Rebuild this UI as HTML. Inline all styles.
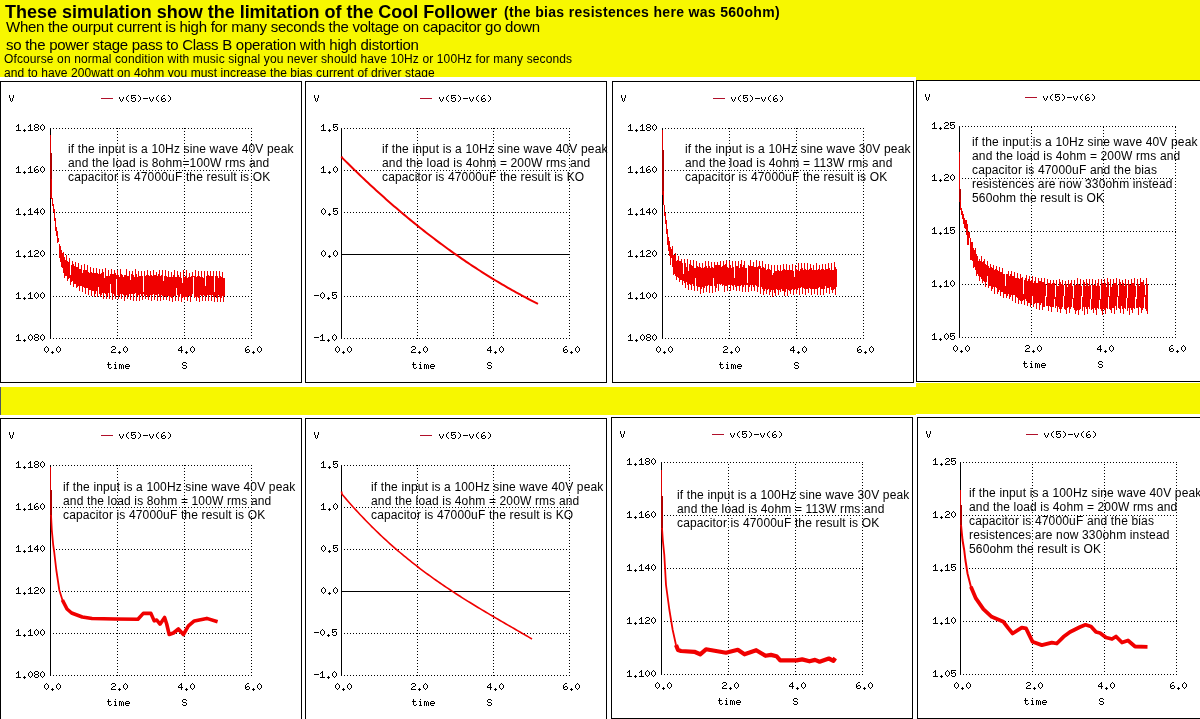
<!DOCTYPE html>
<html><head><meta charset="utf-8"><style>
html,body{margin:0;padding:0;width:1200px;height:719px;overflow:hidden;background:#f7f700;}
body{position:relative;font-family:"Liberation Sans",sans-serif;color:#000;}
.h{position:absolute;white-space:nowrap;line-height:1;will-change:transform;}
</style></head><body>
<div class="h" style="left:5px;top:3px;font-size:18px;font-weight:bold;letter-spacing:-0.015px">These simulation show the limitation of the Cool Follower</div>
<div class="h" style="left:504px;top:5px;font-size:14px;font-weight:bold;letter-spacing:0.32px">(the bias resistences here was 560ohm)</div>
<div class="h" style="left:6px;top:19px;font-size:15px;letter-spacing:-0.275px">When the ourput current is high for many seconds the voltage on capacitor go down</div>
<div class="h" style="left:6px;top:37px;font-size:15px;letter-spacing:-0.27px">so the power stage pass to Class B operation with high distortion</div>
<div class="h" style="left:4px;top:53px;font-size:12px;letter-spacing:0.12px">Ofcourse on normal condition with music signal you never should have 10Hz or 100Hz for many seconds</div>
<div class="h" style="left:4px;top:67px;font-size:12px;letter-spacing:0.083px">and to have 200watt on 4ohm you must increase the bias current of driver stage</div>
<svg width="1200" height="719" viewBox="0 0 1200 719" style="position:absolute;left:0;top:0;will-change:transform" shape-rendering="crispEdges">
<defs><path id="g0" d="M3 0h1v1h-1zM2 1h1v1h-1zM4 1h1v1h-1zM1 2h1v1h-1zM5 2h1v1h-1zM1 3h1v1h-1zM5 3h1v1h-1zM1 4h1v1h-1zM5 4h1v1h-1zM2 5h1v1h-1zM4 5h1v1h-1zM3 6h1v1h-1z"/><path id="g1" d="M3 0h1v1h-1zM2 1h2v1h-2zM1 2h1v1h-1zM3 2h1v1h-1zM3 3h1v1h-1zM3 4h1v1h-1zM3 5h1v1h-1zM1 6h5v1h-5z"/><path id="g2" d="M2 0h3v1h-3zM1 1h1v1h-1zM5 1h1v1h-1zM5 2h1v1h-1zM3 3h2v1h-2zM2 4h1v1h-1zM1 5h1v1h-1zM1 6h5v1h-5z"/><path id="g3" d="M4 0h1v1h-1zM3 1h2v1h-2zM2 2h1v1h-1zM4 2h1v1h-1zM1 3h1v1h-1zM4 3h1v1h-1zM1 4h5v1h-5zM4 5h1v1h-1zM4 6h1v1h-1z"/><path id="g4" d="M1 0h5v1h-5zM1 1h1v1h-1zM1 2h1v1h-1zM3 2h2v1h-2zM1 3h2v1h-2zM5 3h1v1h-1zM5 4h1v1h-1zM1 5h1v1h-1zM5 5h1v1h-1zM2 6h3v1h-3z"/><path id="g5" d="M3 0h2v1h-2zM2 1h1v1h-1zM1 2h1v1h-1zM1 3h1v1h-1zM3 3h2v1h-2zM1 4h2v1h-2zM5 4h1v1h-1zM1 5h1v1h-1zM5 5h1v1h-1zM2 6h3v1h-3z"/><path id="g6" d="M2 0h3v1h-3zM1 1h1v1h-1zM5 1h1v1h-1zM1 2h1v1h-1zM5 2h1v1h-1zM2 3h3v1h-3zM1 4h1v1h-1zM5 4h1v1h-1zM1 5h1v1h-1zM5 5h1v1h-1zM2 6h3v1h-3z"/><path id="g7" d="M3 5h1v1h-1zM2 6h3v1h-3zM3 7h1v1h-1z"/><path id="g8" d="M1 3h5v1h-5z"/><path id="g9" d="M1 0h1v1h-1zM5 0h1v1h-1zM1 1h1v1h-1zM5 1h1v1h-1zM1 2h1v1h-1zM5 2h1v1h-1zM2 3h1v1h-1zM4 3h1v1h-1zM2 4h1v1h-1zM4 4h1v1h-1zM2 5h1v1h-1zM4 5h1v1h-1zM3 6h1v1h-1z"/><path id="g10" d="M1 2h1v1h-1zM5 2h1v1h-1zM1 3h1v1h-1zM5 3h1v1h-1zM2 4h1v1h-1zM4 4h1v1h-1zM2 5h1v1h-1zM4 5h1v1h-1zM3 6h1v1h-1z"/><path id="g11" d="M4 0h1v1h-1zM3 1h1v1h-1zM2 2h1v1h-1zM2 3h1v1h-1zM2 4h1v1h-1zM3 5h1v1h-1zM4 6h1v1h-1z"/><path id="g12" d="M2 0h1v1h-1zM3 1h1v1h-1zM4 2h1v1h-1zM4 3h1v1h-1zM4 4h1v1h-1zM3 5h1v1h-1zM2 6h1v1h-1z"/><path id="g13" d="M2 0h1v1h-1zM2 1h1v1h-1zM1 2h4v1h-4zM2 3h1v1h-1zM2 4h1v1h-1zM2 5h1v1h-1zM5 5h1v1h-1zM3 6h2v1h-2z"/><path id="g14" d="M3 0h1v1h-1zM2 2h2v1h-2zM3 3h1v1h-1zM3 4h1v1h-1zM3 5h1v1h-1zM2 6h3v1h-3z"/><path id="g15" d="M1 2h2v1h-2zM4 2h1v1h-1zM1 3h1v1h-1zM3 3h1v1h-1zM5 3h1v1h-1zM1 4h1v1h-1zM3 4h1v1h-1zM5 4h1v1h-1zM1 5h1v1h-1zM3 5h1v1h-1zM5 5h1v1h-1zM1 6h1v1h-1zM3 6h1v1h-1zM5 6h1v1h-1z"/><path id="g16" d="M2 2h3v1h-3zM1 3h1v1h-1zM5 3h1v1h-1zM1 4h5v1h-5zM1 5h1v1h-1zM2 6h3v1h-3z"/><path id="g17" d="M2 0h3v1h-3zM1 1h1v1h-1zM5 1h1v1h-1zM1 2h1v1h-1zM2 3h3v1h-3zM5 4h1v1h-1zM1 5h1v1h-1zM5 5h1v1h-1zM2 6h3v1h-3z"/></defs>
<rect x="0" y="77" width="916" height="310" fill="#fff"/>
<rect x="0" y="415" width="1200" height="304" fill="#fff"/>
<rect x="916" y="382" width="284" height="1" fill="#fff"/><rect x="916" y="414" width="284" height="1" fill="#fff"/>
<rect x="0" y="387" width="1" height="28" fill="#505860"/>
<rect x="0.5" y="81.5" width="301" height="301" fill="#fff" stroke="#000" stroke-width="1"/>
<path d="M50 128.5 H252 M50 170.5 H252 M50 212.5 H252 M50 254.5 H252 M50 296.5 H252 M50 338.5 H252 M117.5 128 V339 M184.5 128 V339 M251.5 128 V339" stroke="#000" stroke-width="1" stroke-dasharray="1 2" fill="none"/>
<path d="M50.5 128 V339" stroke="#000" stroke-width="1"/>
<g fill="#000"><use href="#g1" x="15" y="124"/><use href="#g7" x="21" y="124"/><use href="#g1" x="27" y="124"/><use href="#g6" x="33" y="124"/><use href="#g0" x="39" y="124"/><use href="#g1" x="15" y="166"/><use href="#g7" x="21" y="166"/><use href="#g1" x="27" y="166"/><use href="#g5" x="33" y="166"/><use href="#g0" x="39" y="166"/><use href="#g1" x="15" y="208"/><use href="#g7" x="21" y="208"/><use href="#g1" x="27" y="208"/><use href="#g3" x="33" y="208"/><use href="#g0" x="39" y="208"/><use href="#g1" x="15" y="250"/><use href="#g7" x="21" y="250"/><use href="#g1" x="27" y="250"/><use href="#g2" x="33" y="250"/><use href="#g0" x="39" y="250"/><use href="#g1" x="15" y="292"/><use href="#g7" x="21" y="292"/><use href="#g1" x="27" y="292"/><use href="#g0" x="33" y="292"/><use href="#g0" x="39" y="292"/><use href="#g1" x="15" y="334"/><use href="#g7" x="21" y="334"/><use href="#g0" x="27" y="334"/><use href="#g6" x="33" y="334"/><use href="#g0" x="39" y="334"/><use href="#g0" x="43" y="346"/><use href="#g7" x="49" y="346"/><use href="#g0" x="55" y="346"/><use href="#g2" x="110" y="346"/><use href="#g7" x="116" y="346"/><use href="#g0" x="122" y="346"/><use href="#g3" x="177" y="346"/><use href="#g7" x="183" y="346"/><use href="#g0" x="189" y="346"/><use href="#g5" x="244" y="346"/><use href="#g7" x="250" y="346"/><use href="#g0" x="256" y="346"/><use href="#g13" x="106" y="362"/><use href="#g14" x="112" y="362"/><use href="#g15" x="118" y="362"/><use href="#g16" x="124" y="362"/><use href="#g17" x="181" y="362"/><use href="#g9" x="8" y="95"/><use href="#g10" x="118" y="95"/><use href="#g11" x="124" y="95"/><use href="#g4" x="130" y="95"/><use href="#g12" x="136" y="95"/><use href="#g8" x="142" y="95"/><use href="#g10" x="148" y="95"/><use href="#g11" x="154" y="95"/><use href="#g5" x="160" y="95"/><use href="#g12" x="166" y="95"/></g>
<rect x="101" y="98" width="12" height="1" fill="#b0102a"/>
<rect x="50" y="135" width="1" height="18" fill="#e00000"/><rect x="50" y="153" width="2" height="45" fill="#b00000"/><path d="M51.5 179.0 V199.0 M52.5 198.0 V206.0 M53.5 204.0 V212.0 M54.5 209.0 V221.0 M55.5 218.0 V231.0 M56.5 227.0 V236.0 M57.5 231.0 V243.0 M58.5 238.0 V242.0 M59.5 244.0 V258.0 M60.5 246.0 V262.0 M61.5 250.0 V267.0 M62.5 253.0 V268.0 M63.5 252.0 V273.0 M64.5 257.0 V278.0 M65.5 260.0 V276.0 M66.5 255.0 V276.0 M67.5 261.0 V281.0 M68.5 262.0 V279.0 M69.5 258.0 V278.0 M70.5 275.0 V285.0 M71.5 265.0 V282.0 M72.5 261.0 V281.0 M73.5 264.0 V287.0 M74.5 266.0 V284.0 M75.5 262.0 V284.0 M76.5 267.0 V288.0 M77.5 267.0 V287.0 M78.5 263.0 V286.0 M79.5 269.0 V291.0 M80.5 269.0 V286.0 M81.5 265.0 V286.0 M82.5 273.0 V292.0 M83.5 270.0 V287.0 M84.5 264.0 V288.0 M85.5 270.0 V294.0 M86.5 270.0 V288.0 M87.5 265.0 V288.0 M88.5 272.0 V295.0 M89.5 273.0 V290.0 M90.5 267.0 V290.0 M91.5 272.0 V296.0 M92.5 273.0 V291.0 M93.5 268.0 V291.0 M94.5 273.0 V297.0 M95.5 273.0 V294.0 M96.5 268.0 V291.0 M97.5 273.0 V297.0 M98.5 274.0 V287.0 M99.5 269.0 V294.0 M100.5 274.0 V297.0 M101.5 273.0 V295.0 M102.5 269.0 V293.0 M103.5 272.0 V299.0 M104.5 278.0 V293.0 M105.5 268.0 V294.0 M106.5 276.0 V299.0 M107.5 276.0 V296.0 M108.5 270.0 V293.0 M109.5 276.0 V299.0 M110.5 274.0 V284.0 M111.5 269.0 V293.0 M112.5 274.0 V300.0 M113.5 274.0 V294.0 M114.5 270.0 V296.0 M115.5 273.0 V299.0 M116.5 275.0 V279.0 M117.5 270.0 V295.0 M118.5 275.0 V299.0 M119.5 277.0 V296.0 M120.5 269.0 V294.0 M121.5 274.0 V299.0 M122.5 275.0 V294.0 M123.5 277.0 V295.0 M124.5 275.0 V301.0 M125.5 275.0 V296.0 M126.5 269.0 V295.0 M127.5 276.0 V299.0 M128.5 276.0 V296.0 M129.5 271.0 V294.0 M130.5 280.0 V300.0 M131.5 274.0 V294.0 M132.5 271.0 V294.0 M133.5 275.0 V301.0 M134.5 277.0 V294.0 M135.5 269.0 V293.0 M136.5 274.0 V301.0 M137.5 277.0 V296.0 M138.5 271.0 V295.0 M139.5 276.0 V301.0 M140.5 276.0 V294.0 M141.5 271.0 V296.0 M142.5 276.0 V300.0 M143.5 292.0 V294.0 M144.5 271.0 V296.0 M145.5 276.0 V299.0 M146.5 275.0 V295.0 M147.5 270.0 V297.0 M148.5 275.0 V300.0 M149.5 276.0 V296.0 M150.5 271.0 V295.0 M151.5 275.0 V301.0 M152.5 276.0 V295.0 M153.5 270.0 V294.0 M154.5 275.0 V300.0 M155.5 275.0 V295.0 M156.5 272.0 V295.0 M157.5 276.0 V301.0 M158.5 274.0 V294.0 M159.5 270.0 V297.0 M160.5 276.0 V301.0 M161.5 275.0 V295.0 M162.5 270.0 V296.0 M163.5 281.0 V300.0 M164.5 276.0 V296.0 M165.5 270.0 V297.0 M166.5 276.0 V300.0 M167.5 277.0 V296.0 M168.5 271.0 V296.0 M169.5 277.0 V301.0 M170.5 277.0 V297.0 M171.5 272.0 V298.0 M172.5 277.0 V302.0 M173.5 275.0 V296.0 M174.5 270.0 V296.0 M175.5 277.0 V301.0 M176.5 277.0 V288.0 M177.5 271.0 V295.0 M178.5 275.0 V301.0 M179.5 277.0 V297.0 M180.5 272.0 V294.0 M181.5 278.0 V302.0 M182.5 283.0 V298.0 M183.5 270.0 V297.0 M184.5 277.0 V300.0 M185.5 276.0 V297.0 M186.5 270.0 V297.0 M187.5 278.0 V301.0 M188.5 277.0 V296.0 M189.5 273.0 V296.0 M190.5 277.0 V302.0 M191.5 276.0 V296.0 M192.5 272.0 V294.0 M193.5 276.0 V277.0 M194.5 276.0 V298.0 M195.5 270.0 V297.0 M196.5 277.0 V301.0 M197.5 276.0 V297.0 M198.5 271.0 V298.0 M199.5 276.0 V302.0 M200.5 277.0 V295.0 M201.5 271.0 V296.0 M202.5 277.0 V301.0 M203.5 278.0 V295.0 M204.5 271.0 V296.0 M205.5 286.0 V301.0 M206.5 276.0 V296.0 M207.5 271.0 V295.0 M208.5 275.0 V301.0 M209.5 276.0 V295.0 M210.5 271.0 V295.0 M211.5 276.0 V301.0 M212.5 276.0 V295.0 M213.5 271.0 V297.0 M214.5 292.0 V302.0 M215.5 276.0 V296.0 M216.5 271.0 V298.0 M217.5 276.0 V302.0 M218.5 278.0 V295.0 M219.5 271.0 V297.0 M220.5 276.0 V302.0 M221.5 277.0 V298.0 M222.5 272.0 V296.0 M223.5 278.0 V302.0 M224.5 278.0 V296.0" fill="none" stroke="#f00000" stroke-width="1"/>
<g shape-rendering="geometricPrecision" font-family="Liberation Sans" font-size="12px" letter-spacing="0.15" fill="#000"><text x="68" y="153">if the input is a 10Hz sine wave 40V peak</text><text x="68" y="167">and the load is 8ohm=100W rms and</text><text x="68" y="181">capacitor is 47000uF the result is OK</text></g>
<rect x="305.5" y="81.5" width="301" height="301" fill="#fff" stroke="#000" stroke-width="1"/>
<path d="M341 128.5 H570 M341 170.5 H570 M341 212.5 H570 M341 254.5 H570 M341 296.5 H570 M341 338.5 H570 M417.5 128 V339 M493.5 128 V339 M569.5 128 V339" stroke="#000" stroke-width="1" stroke-dasharray="1 2" fill="none"/>
<path d="M341.5 128 V339" stroke="#000" stroke-width="1"/>
<path d="M341 254.5 H570" stroke="#000" stroke-width="1"/>
<g fill="#000"><use href="#g1" x="320" y="124"/><use href="#g7" x="326" y="124"/><use href="#g4" x="332" y="124"/><use href="#g1" x="320" y="166"/><use href="#g7" x="326" y="166"/><use href="#g0" x="332" y="166"/><use href="#g0" x="320" y="208"/><use href="#g7" x="326" y="208"/><use href="#g4" x="332" y="208"/><use href="#g0" x="320" y="250"/><use href="#g7" x="326" y="250"/><use href="#g0" x="332" y="250"/><use href="#g8" x="313" y="292"/><use href="#g0" x="319" y="292"/><use href="#g7" x="325" y="292"/><use href="#g4" x="331" y="292"/><use href="#g8" x="313" y="334"/><use href="#g1" x="319" y="334"/><use href="#g7" x="325" y="334"/><use href="#g0" x="331" y="334"/><use href="#g0" x="334" y="346"/><use href="#g7" x="340" y="346"/><use href="#g0" x="346" y="346"/><use href="#g2" x="410" y="346"/><use href="#g7" x="416" y="346"/><use href="#g0" x="422" y="346"/><use href="#g3" x="486" y="346"/><use href="#g7" x="492" y="346"/><use href="#g0" x="498" y="346"/><use href="#g5" x="562" y="346"/><use href="#g7" x="568" y="346"/><use href="#g0" x="574" y="346"/><use href="#g13" x="411" y="362"/><use href="#g14" x="417" y="362"/><use href="#g15" x="423" y="362"/><use href="#g16" x="429" y="362"/><use href="#g17" x="486" y="362"/><use href="#g9" x="313" y="95"/><use href="#g10" x="438" y="95"/><use href="#g11" x="444" y="95"/><use href="#g4" x="450" y="95"/><use href="#g12" x="456" y="95"/><use href="#g8" x="462" y="95"/><use href="#g10" x="468" y="95"/><use href="#g11" x="474" y="95"/><use href="#g5" x="480" y="95"/><use href="#g12" x="486" y="95"/></g>
<rect x="420" y="98" width="12" height="1" fill="#b0102a"/>
<path d="M341.5 156.5 L342 157.614 L344 159.616 L346 161.606 L348 163.585 L350 165.554 L352 167.512 L354 169.458 L356 171.394 L358 173.319 L360 175.234 L362 177.137 L364 179.03 L366 180.912 L368 182.783 L370 184.643 L372 186.493 L374 188.332 L376 190.16 L378 191.977 L380 193.784 L382 195.58 L384 197.366 L386 199.14 L388 200.905 L390 202.658 L392 204.401 L394 206.133 L396 207.855 L398 209.566 L400 211.267 L402 212.957 L404 214.636 L406 216.305 L408 217.964 L410 219.612 L412 221.249 L414 222.877 L416 224.493 L418 226.099 L420 227.695 L422 229.28 L424 230.855 L426 232.42 L428 233.974 L430 235.518 L432 237.051 L434 238.574 L436 240.087 L438 241.59 L440 243.082 L442 244.564 L444 246.035 L446 247.497 L448 248.948 L450 250.389 L452 251.82 L454 253.24 L456 254.65 L458 256.051 L460 257.441 L462 258.82 L464 260.19 L466 261.55 L468 262.899 L470 264.238 L472 265.568 L474 266.887 L476 268.196 L478 269.495 L480 270.784 L482 272.063 L484 273.332 L486 274.591 L488 275.84 L490 277.079 L492 278.309 L494 279.528 L496 280.737 L498 281.936 L500 283.126 L502 284.306 L504 285.475 L506 286.635 L508 287.785 L510 288.925 L512 290.056 L514 291.176 L516 292.287 L518 293.388 L520 294.479 L522 295.561 L524 296.632 L526 297.694 L528 298.746 L530 299.789 L532 300.822 L534 301.845 L536 302.859 L538 303.862" fill="none" stroke="#f00000" stroke-width="2" stroke-linejoin="round" shape-rendering="geometricPrecision"/>
<g shape-rendering="geometricPrecision" font-family="Liberation Sans" font-size="12px" letter-spacing="0.15" fill="#000"><text x="382" y="153">if the input is a 10Hz sine wave 40V peak</text><text x="382" y="167">and the load is 4ohm = 200W rms and</text><text x="382" y="181">capacitor is 47000uF the result is KO</text></g>
<rect x="612.5" y="81.5" width="301" height="301" fill="#fff" stroke="#000" stroke-width="1"/>
<path d="M662 128.5 H864 M662 170.5 H864 M662 212.5 H864 M662 254.5 H864 M662 296.5 H864 M662 338.5 H864 M729.5 128 V339 M796.5 128 V339 M863.5 128 V339" stroke="#000" stroke-width="1" stroke-dasharray="1 2" fill="none"/>
<path d="M662.5 128 V339" stroke="#000" stroke-width="1"/>
<g fill="#000"><use href="#g1" x="627" y="124"/><use href="#g7" x="633" y="124"/><use href="#g1" x="639" y="124"/><use href="#g6" x="645" y="124"/><use href="#g0" x="651" y="124"/><use href="#g1" x="627" y="166"/><use href="#g7" x="633" y="166"/><use href="#g1" x="639" y="166"/><use href="#g5" x="645" y="166"/><use href="#g0" x="651" y="166"/><use href="#g1" x="627" y="208"/><use href="#g7" x="633" y="208"/><use href="#g1" x="639" y="208"/><use href="#g3" x="645" y="208"/><use href="#g0" x="651" y="208"/><use href="#g1" x="627" y="250"/><use href="#g7" x="633" y="250"/><use href="#g1" x="639" y="250"/><use href="#g2" x="645" y="250"/><use href="#g0" x="651" y="250"/><use href="#g1" x="627" y="292"/><use href="#g7" x="633" y="292"/><use href="#g1" x="639" y="292"/><use href="#g0" x="645" y="292"/><use href="#g0" x="651" y="292"/><use href="#g1" x="627" y="334"/><use href="#g7" x="633" y="334"/><use href="#g0" x="639" y="334"/><use href="#g6" x="645" y="334"/><use href="#g0" x="651" y="334"/><use href="#g0" x="655" y="346"/><use href="#g7" x="661" y="346"/><use href="#g0" x="667" y="346"/><use href="#g2" x="722" y="346"/><use href="#g7" x="728" y="346"/><use href="#g0" x="734" y="346"/><use href="#g3" x="789" y="346"/><use href="#g7" x="795" y="346"/><use href="#g0" x="801" y="346"/><use href="#g5" x="856" y="346"/><use href="#g7" x="862" y="346"/><use href="#g0" x="868" y="346"/><use href="#g13" x="718" y="362"/><use href="#g14" x="724" y="362"/><use href="#g15" x="730" y="362"/><use href="#g16" x="736" y="362"/><use href="#g17" x="793" y="362"/><use href="#g9" x="620" y="95"/><use href="#g10" x="730" y="95"/><use href="#g11" x="736" y="95"/><use href="#g4" x="742" y="95"/><use href="#g12" x="748" y="95"/><use href="#g8" x="754" y="95"/><use href="#g10" x="760" y="95"/><use href="#g11" x="766" y="95"/><use href="#g5" x="772" y="95"/><use href="#g12" x="778" y="95"/></g>
<rect x="713" y="98" width="12" height="1" fill="#b0102a"/>
<rect x="662" y="130" width="1" height="20" fill="#e00000"/><rect x="662" y="150" width="2" height="45" fill="#b00000"/><path d="M663.5 191.0 V205.0 M664.5 205.0 V216.0 M665.5 213.0 V224.0 M666.5 220.0 V234.0 M667.5 229.0 V245.0 M668.5 237.0 V251.0 M669.5 241.0 V256.0 M670.5 247.0 V265.0 M671.5 249.0 V258.0 M672.5 246.0 V267.0 M673.5 255.0 V275.0 M674.5 255.0 V274.0 M675.5 253.0 V276.0 M676.5 261.0 V280.0 M677.5 260.0 V277.0 M678.5 256.0 V278.0 M679.5 261.0 V282.0 M680.5 261.0 V280.0 M681.5 259.0 V280.0 M682.5 263.0 V285.0 M683.5 274.0 V281.0 M684.5 259.0 V283.0 M685.5 263.0 V288.0 M686.5 267.0 V282.0 M687.5 259.0 V285.0 M688.5 271.0 V290.0 M689.5 264.0 V284.0 M690.5 260.0 V285.0 M691.5 265.0 V290.0 M692.5 266.0 V284.0 M693.5 260.0 V286.0 M694.5 268.0 V291.0 M695.5 268.0 V278.0 M696.5 261.0 V286.0 M697.5 266.0 V291.0 M698.5 267.0 V287.0 M699.5 263.0 V287.0 M700.5 267.0 V294.0 M701.5 268.0 V289.0 M702.5 263.0 V287.0 M703.5 268.0 V293.0 M704.5 267.0 V288.0 M705.5 261.0 V286.0 M706.5 266.0 V292.0 M707.5 268.0 V286.0 M708.5 261.0 V285.0 M709.5 266.0 V293.0 M710.5 268.0 V286.0 M711.5 262.0 V286.0 M712.5 267.0 V293.0 M713.5 268.0 V278.0 M714.5 262.0 V286.0 M715.5 265.0 V292.0 M716.5 265.0 V288.0 M717.5 262.0 V284.0 M718.5 265.0 V291.0 M719.5 265.0 V284.0 M720.5 261.0 V285.0 M721.5 267.0 V284.0 M722.5 266.0 V286.0 M723.5 261.0 V285.0 M724.5 265.0 V292.0 M725.5 264.0 V286.0 M726.5 260.0 V286.0 M727.5 267.0 V291.0 M728.5 268.0 V285.0 M729.5 261.0 V285.0 M730.5 265.0 V291.0 M731.5 268.0 V285.0 M732.5 261.0 V286.0 M733.5 267.0 V290.0 M734.5 278.0 V285.0 M735.5 261.0 V287.0 M736.5 266.0 V291.0 M737.5 266.0 V286.0 M738.5 261.0 V286.0 M739.5 268.0 V291.0 M740.5 264.0 V286.0 M741.5 260.0 V285.0 M742.5 267.0 V292.0 M743.5 265.0 V287.0 M744.5 261.0 V285.0 M745.5 268.0 V292.0 M746.5 268.0 V285.0 M747.5 283.0 V285.0 M748.5 265.0 V292.0 M749.5 266.0 V287.0 M750.5 260.0 V285.0 M751.5 266.0 V291.0 M752.5 266.0 V285.0 M753.5 262.0 V287.0 M754.5 267.0 V291.0 M755.5 267.0 V285.0 M756.5 260.0 V286.0 M757.5 267.0 V292.0 M758.5 266.0 V287.0 M759.5 261.0 V269.0 M760.5 266.0 V294.0 M761.5 268.0 V287.0 M762.5 261.0 V289.0 M763.5 267.0 V295.0 M764.5 268.0 V291.0 M765.5 264.0 V289.0 M766.5 270.0 V294.0 M767.5 269.0 V290.0 M768.5 264.0 V289.0 M769.5 269.0 V295.0 M770.5 270.0 V292.0 M771.5 265.0 V290.0 M772.5 275.0 V297.0 M773.5 273.0 V290.0 M774.5 265.0 V293.0 M775.5 271.0 V296.0 M776.5 271.0 V289.0 M777.5 265.0 V290.0 M778.5 270.0 V295.0 M779.5 271.0 V290.0 M780.5 265.0 V292.0 M781.5 271.0 V289.0 M782.5 270.0 V291.0 M783.5 264.0 V291.0 M784.5 269.0 V296.0 M785.5 270.0 V292.0 M786.5 264.0 V289.0 M787.5 270.0 V296.0 M788.5 270.0 V290.0 M789.5 265.0 V291.0 M790.5 270.0 V294.0 M791.5 270.0 V290.0 M792.5 264.0 V289.0 M793.5 271.0 V295.0 M794.5 277.0 V290.0 M795.5 265.0 V289.0 M796.5 269.0 V294.0 M797.5 270.0 V290.0 M798.5 263.0 V288.0 M799.5 271.0 V295.0 M800.5 269.0 V288.0 M801.5 263.0 V287.0 M802.5 268.0 V294.0 M803.5 270.0 V288.0 M804.5 263.0 V289.0 M805.5 269.0 V295.0 M806.5 270.0 V289.0 M807.5 263.0 V289.0 M808.5 270.0 V293.0 M809.5 269.0 V288.0 M810.5 264.0 V289.0 M811.5 268.0 V295.0 M812.5 270.0 V289.0 M813.5 265.0 V289.0 M814.5 270.0 V294.0 M815.5 270.0 V289.0 M816.5 263.0 V289.0 M817.5 270.0 V295.0 M818.5 269.0 V288.0 M819.5 265.0 V287.0 M820.5 270.0 V295.0 M821.5 269.0 V289.0 M822.5 264.0 V289.0 M823.5 269.0 V295.0 M824.5 270.0 V289.0 M825.5 264.0 V286.0 M826.5 269.0 V293.0 M827.5 269.0 V288.0 M828.5 263.0 V288.0 M829.5 268.0 V294.0 M830.5 270.0 V287.0 M831.5 263.0 V290.0 M832.5 270.0 V293.0 M833.5 270.0 V290.0 M834.5 262.0 V289.0 M835.5 267.0 V295.0 M836.5 269.0 V287.0" fill="none" stroke="#f00000" stroke-width="1"/>
<g shape-rendering="geometricPrecision" font-family="Liberation Sans" font-size="12px" letter-spacing="0.15" fill="#000"><text x="685" y="153">if the input is a 10Hz sine wave 30V peak</text><text x="685" y="167">and the load is 4ohm = 113W rms and</text><text x="685" y="181">capacitor is 47000uF the result is OK</text></g>
<rect x="916.5" y="80.5" width="301" height="301" fill="#fff" stroke="#000" stroke-width="1"/>
<path d="M959 126.5 H1176 M959 178.5 H1176 M959 231.5 H1176 M959 284.5 H1176 M959 337.5 H1176 M1031.5 127 V338 M1103.5 127 V338 M1175.5 127 V338" stroke="#000" stroke-width="1" stroke-dasharray="1 2" fill="none"/>
<path d="M959.5 126 V338" stroke="#000" stroke-width="1"/>
<g fill="#000"><use href="#g1" x="931" y="122"/><use href="#g7" x="937" y="122"/><use href="#g2" x="943" y="122"/><use href="#g4" x="949" y="122"/><use href="#g1" x="931" y="174"/><use href="#g7" x="937" y="174"/><use href="#g2" x="943" y="174"/><use href="#g0" x="949" y="174"/><use href="#g1" x="931" y="227"/><use href="#g7" x="937" y="227"/><use href="#g1" x="943" y="227"/><use href="#g4" x="949" y="227"/><use href="#g1" x="931" y="280"/><use href="#g7" x="937" y="280"/><use href="#g1" x="943" y="280"/><use href="#g0" x="949" y="280"/><use href="#g1" x="931" y="333"/><use href="#g7" x="937" y="333"/><use href="#g0" x="943" y="333"/><use href="#g4" x="949" y="333"/><use href="#g0" x="952" y="345"/><use href="#g7" x="958" y="345"/><use href="#g0" x="964" y="345"/><use href="#g2" x="1024" y="345"/><use href="#g7" x="1030" y="345"/><use href="#g0" x="1036" y="345"/><use href="#g3" x="1096" y="345"/><use href="#g7" x="1102" y="345"/><use href="#g0" x="1108" y="345"/><use href="#g5" x="1168" y="345"/><use href="#g7" x="1174" y="345"/><use href="#g0" x="1180" y="345"/><use href="#g13" x="1022" y="361"/><use href="#g14" x="1028" y="361"/><use href="#g15" x="1034" y="361"/><use href="#g16" x="1040" y="361"/><use href="#g17" x="1097" y="361"/><use href="#g9" x="924" y="94"/><use href="#g10" x="1042" y="94"/><use href="#g11" x="1048" y="94"/><use href="#g4" x="1054" y="94"/><use href="#g12" x="1060" y="94"/><use href="#g8" x="1066" y="94"/><use href="#g10" x="1072" y="94"/><use href="#g11" x="1078" y="94"/><use href="#g5" x="1084" y="94"/><use href="#g12" x="1090" y="94"/></g>
<rect x="1025" y="97" width="12" height="1" fill="#b0102a"/>
<rect x="959" y="152" width="1" height="37" fill="#e00000"/><rect x="959" y="189" width="2" height="13" fill="#b00000"/><path d="M960.5 200.0 V210.0 M961.5 208.0 V215.0 M962.5 211.0 V219.0 M963.5 214.0 V224.0 M964.5 218.0 V228.0 M965.5 220.0 V229.0 M966.5 220.0 V235.0 M967.5 224.0 V245.0 M968.5 232.0 V245.0 M969.5 232.0 V238.0 M970.5 238.0 V260.0 M971.5 242.0 V260.0 M972.5 242.0 V261.0 M973.5 248.0 V268.0 M974.5 250.0 V267.0 M975.5 248.0 V270.0 M976.5 254.0 V276.0 M977.5 256.0 V274.0 M978.5 261.0 V276.0 M979.5 259.0 V281.0 M980.5 261.0 V277.0 M981.5 256.0 V279.0 M982.5 262.0 V283.0 M983.5 261.0 V281.0 M984.5 259.0 V282.0 M985.5 264.0 V287.0 M986.5 265.0 V282.0 M987.5 261.0 V276.0 M988.5 266.0 V288.0 M989.5 268.0 V286.0 M990.5 264.0 V286.0 M991.5 267.0 V291.0 M992.5 268.0 V289.0 M993.5 265.0 V287.0 M994.5 270.0 V294.0 M995.5 269.0 V287.0 M996.5 266.0 V288.0 M997.5 270.0 V294.0 M998.5 271.0 V292.0 M999.5 267.0 V290.0 M1000.5 272.0 V296.0 M1001.5 272.0 V292.0 M1002.5 268.0 V292.0 M1003.5 274.0 V298.0 M1004.5 274.0 V294.0 M1005.5 286.0 V294.0 M1006.5 274.0 V298.0 M1007.5 274.0 V296.0 M1008.5 271.0 V294.0 M1009.5 276.0 V299.0 M1010.5 274.0 V297.0 M1011.5 271.0 V295.0 M1012.5 276.0 V301.0 M1013.5 276.0 V295.0 M1014.5 272.0 V295.0 M1015.5 278.0 V303.0 M1016.5 278.0 V297.0 M1017.5 273.0 V298.0 M1018.5 278.0 V304.0 M1019.5 279.0 V300.0 M1020.5 274.0 V301.0 M1021.5 278.0 V304.0 M1022.5 277.0 V301.0 M1023.5 294.0 V300.0 M1024.5 280.0 V305.0 M1025.5 278.0 V299.0 M1026.5 275.0 V301.0 M1027.5 281.0 V306.0 M1028.5 279.0 V303.0 M1029.5 276.0 V303.0 M1030.5 281.0 V307.0 M1031.5 280.0 V304.0 M1032.5 276.0 V296.0 M1033.5 283.0 V307.0 M1034.5 281.0 V304.0 M1035.5 277.0 V303.0 M1036.5 283.0 V309.0 M1037.5 283.0 V303.0 M1038.5 278.0 V303.0 M1039.5 281.0 V310.0 M1040.5 281.0 V305.0 M1041.5 278.0 V303.0 M1042.5 282.0 V310.0 M1043.5 282.0 V307.0 M1044.5 278.0 V307.0 M1045.5 284.0 V296.0 M1046.5 297.0 V306.0 M1047.5 279.0 V306.0 M1048.5 283.0 V311.0 M1049.5 283.0 V306.0 M1050.5 280.0 V307.0 M1051.5 284.0 V312.0 M1052.5 283.0 V307.0 M1053.5 280.0 V307.0 M1054.5 283.0 V299.0 M1055.5 297.0 V308.0 M1056.5 280.0 V306.0 M1057.5 286.0 V312.0 M1058.5 286.0 V307.0 M1059.5 279.0 V309.0 M1060.5 282.0 V313.0 M1061.5 284.0 V309.0 M1062.5 280.0 V307.0 M1063.5 285.0 V296.0 M1064.5 296.0 V309.0 M1065.5 281.0 V310.0 M1066.5 284.0 V314.0 M1067.5 287.0 V308.0 M1068.5 280.0 V307.0 M1069.5 284.0 V313.0 M1070.5 283.0 V309.0 M1071.5 280.0 V307.0 M1072.5 286.0 V299.0 M1073.5 298.0 V308.0 M1074.5 280.0 V310.0 M1075.5 285.0 V314.0 M1076.5 285.0 V311.0 M1077.5 278.0 V310.0 M1078.5 284.0 V315.0 M1079.5 285.0 V310.0 M1080.5 279.0 V309.0 M1081.5 286.0 V296.0 M1082.5 297.0 V311.0 M1083.5 280.0 V307.0 M1084.5 282.0 V315.0 M1085.5 286.0 V307.0 M1086.5 279.0 V309.0 M1087.5 283.0 V314.0 M1088.5 286.0 V307.0 M1089.5 279.0 V309.0 M1090.5 285.0 V299.0 M1091.5 299.0 V310.0 M1092.5 279.0 V309.0 M1093.5 285.0 V313.0 M1094.5 285.0 V308.0 M1095.5 280.0 V310.0 M1096.5 286.0 V315.0 M1097.5 283.0 V308.0 M1098.5 279.0 V309.0 M1099.5 286.0 V300.0 M1100.5 299.0 V309.0 M1101.5 279.0 V311.0 M1102.5 283.0 V315.0 M1103.5 284.0 V309.0 M1104.5 279.0 V310.0 M1105.5 283.0 V314.0 M1106.5 287.0 V308.0 M1107.5 278.0 V309.0 M1108.5 282.0 V297.0 M1109.5 296.0 V309.0 M1110.5 279.0 V310.0 M1111.5 287.0 V313.0 M1112.5 285.0 V308.0 M1113.5 279.0 V308.0 M1114.5 283.0 V314.0 M1115.5 283.0 V306.0 M1116.5 278.0 V310.0 M1117.5 285.0 V297.0 M1118.5 296.0 V308.0 M1119.5 279.0 V309.0 M1120.5 282.0 V313.0 M1121.5 285.0 V306.0 M1122.5 280.0 V309.0 M1123.5 283.0 V314.0 M1124.5 286.0 V308.0 M1125.5 279.0 V309.0 M1126.5 284.0 V298.0 M1127.5 298.0 V311.0 M1128.5 280.0 V308.0 M1129.5 284.0 V315.0 M1130.5 285.0 V308.0 M1131.5 279.0 V310.0 M1132.5 283.0 V313.0 M1133.5 283.0 V308.0 M1134.5 278.0 V309.0 M1135.5 286.0 V297.0 M1136.5 299.0 V308.0 M1137.5 279.0 V308.0 M1138.5 284.0 V315.0 M1139.5 286.0 V307.0 M1140.5 278.0 V308.0 M1141.5 282.0 V313.0 M1142.5 282.0 V310.0 M1143.5 280.0 V308.0 M1144.5 285.0 V297.0 M1145.5 295.0 V309.0 M1146.5 278.0 V311.0 M1147.5 284.0 V314.0" fill="none" stroke="#f00000" stroke-width="1"/>
<g shape-rendering="geometricPrecision" font-family="Liberation Sans" font-size="12px" letter-spacing="0.15" fill="#000"><text x="972" y="146">if the input is a 10Hz sine wave 40V peak</text><text x="972" y="160">and the load is 4ohm = 200W rms and</text><text x="972" y="174">capacitor is 47000uF and the bias</text><text x="972" y="188">resistences are now 330ohm instead</text><text x="972" y="202">560ohm the result is OK</text></g>
<rect x="0.5" y="418.5" width="301" height="301" fill="#fff" stroke="#000" stroke-width="1"/>
<path d="M50 465.5 H252 M50 507.5 H252 M50 549.5 H252 M50 591.5 H252 M50 633.5 H252 M50 675.5 H252 M117.5 465 V676 M184.5 465 V676 M251.5 465 V676" stroke="#000" stroke-width="1" stroke-dasharray="1 2" fill="none"/>
<path d="M50.5 465 V676" stroke="#000" stroke-width="1"/>
<g fill="#000"><use href="#g1" x="15" y="461"/><use href="#g7" x="21" y="461"/><use href="#g1" x="27" y="461"/><use href="#g6" x="33" y="461"/><use href="#g0" x="39" y="461"/><use href="#g1" x="15" y="503"/><use href="#g7" x="21" y="503"/><use href="#g1" x="27" y="503"/><use href="#g5" x="33" y="503"/><use href="#g0" x="39" y="503"/><use href="#g1" x="15" y="545"/><use href="#g7" x="21" y="545"/><use href="#g1" x="27" y="545"/><use href="#g3" x="33" y="545"/><use href="#g0" x="39" y="545"/><use href="#g1" x="15" y="587"/><use href="#g7" x="21" y="587"/><use href="#g1" x="27" y="587"/><use href="#g2" x="33" y="587"/><use href="#g0" x="39" y="587"/><use href="#g1" x="15" y="629"/><use href="#g7" x="21" y="629"/><use href="#g1" x="27" y="629"/><use href="#g0" x="33" y="629"/><use href="#g0" x="39" y="629"/><use href="#g1" x="15" y="671"/><use href="#g7" x="21" y="671"/><use href="#g0" x="27" y="671"/><use href="#g6" x="33" y="671"/><use href="#g0" x="39" y="671"/><use href="#g0" x="43" y="683"/><use href="#g7" x="49" y="683"/><use href="#g0" x="55" y="683"/><use href="#g2" x="110" y="683"/><use href="#g7" x="116" y="683"/><use href="#g0" x="122" y="683"/><use href="#g3" x="177" y="683"/><use href="#g7" x="183" y="683"/><use href="#g0" x="189" y="683"/><use href="#g5" x="244" y="683"/><use href="#g7" x="250" y="683"/><use href="#g0" x="256" y="683"/><use href="#g13" x="106" y="699"/><use href="#g14" x="112" y="699"/><use href="#g15" x="118" y="699"/><use href="#g16" x="124" y="699"/><use href="#g17" x="181" y="699"/><use href="#g9" x="8" y="432"/><use href="#g10" x="118" y="432"/><use href="#g11" x="124" y="432"/><use href="#g4" x="130" y="432"/><use href="#g12" x="136" y="432"/><use href="#g8" x="142" y="432"/><use href="#g10" x="148" y="432"/><use href="#g11" x="154" y="432"/><use href="#g5" x="160" y="432"/><use href="#g12" x="166" y="432"/></g>
<rect x="101" y="435" width="12" height="1" fill="#b0102a"/>
<rect x="50" y="467" width="1" height="23" fill="#e00000"/><rect x="50" y="490" width="2" height="26" fill="#b00000"/><path d="M51 515 L51.8 530 L53.2 545 L54.2 552 L56.3 570 L59.3 590 L62.4 600 L67 609" fill="none" stroke="#f00000" stroke-width="1.8" stroke-linejoin="round" shape-rendering="geometricPrecision"/><path d="M62.4 600 L67 609 L71.6 613 L82.3 617 L92 618.5 L115 619 L137.9 619.3 L143.3 613.4 L150.9 613.4 L154.2 620.9 L156.7 620 L160 624.2 L164.6 617.5 L166.7 624 L169.2 634.5 L173.4 633 L178.4 629 L183.4 634.5 L188.4 625.9 L194.3 620.9 L206.8 618.4 L217.6 621.7" fill="none" stroke="#f00000" stroke-width="3.6" stroke-linejoin="round" shape-rendering="geometricPrecision"/>
<g shape-rendering="geometricPrecision" font-family="Liberation Sans" font-size="12px" letter-spacing="0.15" fill="#000"><text x="63" y="491">if the input is a 100Hz sine wave 40V peak</text><text x="63" y="505">and the load is 8ohm = 100W rms and</text><text x="63" y="519">capacitor is 47000uF the result is OK</text></g>
<rect x="305.5" y="418.5" width="301" height="301" fill="#fff" stroke="#000" stroke-width="1"/>
<path d="M341 465.5 H570 M341 507.5 H570 M341 549.5 H570 M341 591.5 H570 M341 633.5 H570 M341 675.5 H570 M417.5 465 V676 M493.5 465 V676 M569.5 465 V676" stroke="#000" stroke-width="1" stroke-dasharray="1 2" fill="none"/>
<path d="M341.5 465 V676" stroke="#000" stroke-width="1"/>
<path d="M341 591.5 H570" stroke="#000" stroke-width="1"/>
<g fill="#000"><use href="#g1" x="320" y="461"/><use href="#g7" x="326" y="461"/><use href="#g4" x="332" y="461"/><use href="#g1" x="320" y="503"/><use href="#g7" x="326" y="503"/><use href="#g0" x="332" y="503"/><use href="#g0" x="320" y="545"/><use href="#g7" x="326" y="545"/><use href="#g4" x="332" y="545"/><use href="#g0" x="320" y="587"/><use href="#g7" x="326" y="587"/><use href="#g0" x="332" y="587"/><use href="#g8" x="313" y="629"/><use href="#g0" x="319" y="629"/><use href="#g7" x="325" y="629"/><use href="#g4" x="331" y="629"/><use href="#g8" x="313" y="671"/><use href="#g1" x="319" y="671"/><use href="#g7" x="325" y="671"/><use href="#g0" x="331" y="671"/><use href="#g0" x="334" y="683"/><use href="#g7" x="340" y="683"/><use href="#g0" x="346" y="683"/><use href="#g2" x="410" y="683"/><use href="#g7" x="416" y="683"/><use href="#g0" x="422" y="683"/><use href="#g3" x="486" y="683"/><use href="#g7" x="492" y="683"/><use href="#g0" x="498" y="683"/><use href="#g5" x="562" y="683"/><use href="#g7" x="568" y="683"/><use href="#g0" x="574" y="683"/><use href="#g13" x="411" y="699"/><use href="#g14" x="417" y="699"/><use href="#g15" x="423" y="699"/><use href="#g16" x="429" y="699"/><use href="#g17" x="486" y="699"/><use href="#g9" x="313" y="432"/><use href="#g10" x="438" y="432"/><use href="#g11" x="444" y="432"/><use href="#g4" x="450" y="432"/><use href="#g12" x="456" y="432"/><use href="#g8" x="462" y="432"/><use href="#g10" x="468" y="432"/><use href="#g11" x="474" y="432"/><use href="#g5" x="480" y="432"/><use href="#g12" x="486" y="432"/></g>
<rect x="420" y="435" width="12" height="1" fill="#b0102a"/>
<path d="M341.5 491.5 L342 494.161 L344 496.524 L346 498.859 L348 501.166 L350 503.446 L352 505.699 L354 507.925 L356 510.125 L358 512.298 L360 514.446 L362 516.568 L364 518.665 L366 520.738 L368 522.786 L370 524.81 L372 526.81 L374 528.786 L376 530.74 L378 532.67 L380 534.579 L382 536.465 L384 538.329 L386 540.172 L388 541.993 L390 543.794 L392 545.575 L394 547.335 L396 549.075 L398 550.796 L400 552.498 L402 554.181 L404 555.845 L406 557.492 L408 559.12 L410 560.731 L412 562.325 L414 563.902 L416 565.462 L418 567.006 L420 568.534 L422 570.047 L424 571.545 L426 573.028 L428 574.496 L430 575.95 L432 577.39 L434 578.816 L436 580.23 L438 581.63 L440 583.018 L442 584.394 L444 585.758 L446 587.11 L448 588.451 L450 589.781 L452 591.1 L454 592.41 L456 593.709 L458 594.999 L460 596.279 L462 597.551 L464 598.814 L466 600.069 L468 601.316 L470 602.555 L472 603.787 L474 605.012 L476 606.23 L478 607.443 L480 608.649 L482 609.849 L484 611.045 L486 612.235 L488 613.421 L490 614.602 L492 615.78 L494 616.953 L496 618.124 L498 619.291 L500 620.456 L502 621.619 L504 622.779 L506 623.938 L508 625.096 L510 626.253 L512 627.409 L514 628.564 L516 629.72 L518 630.876 L520 632.032 L522 633.19 L524 634.349 L526 635.509 L528 636.672 L530 637.837 L532 639.004" fill="none" stroke="#f00000" stroke-width="1.6" stroke-linejoin="round" shape-rendering="geometricPrecision"/>
<g shape-rendering="geometricPrecision" font-family="Liberation Sans" font-size="12px" letter-spacing="0.15" fill="#000"><text x="371" y="491">if the input is a 100Hz sine wave 40V peak</text><text x="371" y="505">and the load is 4ohm = 200W rms and</text><text x="371" y="519">capacitor is 47000uF the result is KO</text></g>
<rect x="611.5" y="417.5" width="301" height="301" fill="#fff" stroke="#000" stroke-width="1"/>
<path d="M661 462.5 H863 M661 515.5 H863 M661 568.5 H863 M661 621.5 H863 M661 674.5 H863 M728.5 464 V675 M795.5 464 V675 M862.5 464 V675" stroke="#000" stroke-width="1" stroke-dasharray="1 2" fill="none"/>
<path d="M661.5 462 V675" stroke="#000" stroke-width="1"/>
<g fill="#000"><use href="#g1" x="626" y="458"/><use href="#g7" x="632" y="458"/><use href="#g1" x="638" y="458"/><use href="#g6" x="644" y="458"/><use href="#g0" x="650" y="458"/><use href="#g1" x="626" y="511"/><use href="#g7" x="632" y="511"/><use href="#g1" x="638" y="511"/><use href="#g5" x="644" y="511"/><use href="#g0" x="650" y="511"/><use href="#g1" x="626" y="564"/><use href="#g7" x="632" y="564"/><use href="#g1" x="638" y="564"/><use href="#g3" x="644" y="564"/><use href="#g0" x="650" y="564"/><use href="#g1" x="626" y="617"/><use href="#g7" x="632" y="617"/><use href="#g1" x="638" y="617"/><use href="#g2" x="644" y="617"/><use href="#g0" x="650" y="617"/><use href="#g1" x="626" y="670"/><use href="#g7" x="632" y="670"/><use href="#g1" x="638" y="670"/><use href="#g0" x="644" y="670"/><use href="#g0" x="650" y="670"/><use href="#g0" x="654" y="682"/><use href="#g7" x="660" y="682"/><use href="#g0" x="666" y="682"/><use href="#g2" x="721" y="682"/><use href="#g7" x="727" y="682"/><use href="#g0" x="733" y="682"/><use href="#g3" x="788" y="682"/><use href="#g7" x="794" y="682"/><use href="#g0" x="800" y="682"/><use href="#g5" x="855" y="682"/><use href="#g7" x="861" y="682"/><use href="#g0" x="867" y="682"/><use href="#g13" x="717" y="698"/><use href="#g14" x="723" y="698"/><use href="#g15" x="729" y="698"/><use href="#g16" x="735" y="698"/><use href="#g17" x="792" y="698"/><use href="#g9" x="619" y="431"/><use href="#g10" x="729" y="431"/><use href="#g11" x="735" y="431"/><use href="#g4" x="741" y="431"/><use href="#g12" x="747" y="431"/><use href="#g8" x="753" y="431"/><use href="#g10" x="759" y="431"/><use href="#g11" x="765" y="431"/><use href="#g5" x="771" y="431"/><use href="#g12" x="777" y="431"/></g>
<rect x="712" y="434" width="12" height="1" fill="#b0102a"/>
<rect x="661" y="470" width="1" height="26" fill="#e00000"/><rect x="661" y="496" width="2" height="33" fill="#b00000"/><path d="M662 528 L662.8 540 L664.3 555 L666 585 L669.4 610 L672.7 630 L676 645 L678 650" fill="none" stroke="#f00000" stroke-width="1.8" stroke-linejoin="round" shape-rendering="geometricPrecision"/><path d="M676 645 L678 650 L681 651 L694.4 651.8 L700.2 654.3 L706 649.3 L726 652.7 L737.8 649.8 L744.5 654.3 L756.2 650.2 L765.5 655.8 L771 654.9 L776.5 656.2 L780.2 660.4 L796.7 660.4 L802.2 659.4 L809.5 661.3 L815 659.9 L819.6 661.7 L828.8 658.5 L833.4 660.8 L835.2 658" fill="none" stroke="#f00000" stroke-width="4.2" stroke-linejoin="round" shape-rendering="geometricPrecision"/>
<g shape-rendering="geometricPrecision" font-family="Liberation Sans" font-size="12px" letter-spacing="0.15" fill="#000"><text x="677" y="499">if the input is a 100Hz sine wave 30V peak</text><text x="677" y="513">and the load is 4ohm = 113W rms and</text><text x="677" y="527">capacitor is 47000uF the result is OK</text></g>
<rect x="917.5" y="417.5" width="301" height="301" fill="#fff" stroke="#000" stroke-width="1"/>
<path d="M960 462.5 H1177 M960 515.5 H1177 M960 568.5 H1177 M960 621.5 H1177 M960 674.5 H1177 M1032.5 464 V675 M1104.5 464 V675 M1176.5 464 V675" stroke="#000" stroke-width="1" stroke-dasharray="1 2" fill="none"/>
<path d="M960.5 462 V675" stroke="#000" stroke-width="1"/>
<g fill="#000"><use href="#g1" x="932" y="458"/><use href="#g7" x="938" y="458"/><use href="#g2" x="944" y="458"/><use href="#g4" x="950" y="458"/><use href="#g1" x="932" y="511"/><use href="#g7" x="938" y="511"/><use href="#g2" x="944" y="511"/><use href="#g0" x="950" y="511"/><use href="#g1" x="932" y="564"/><use href="#g7" x="938" y="564"/><use href="#g1" x="944" y="564"/><use href="#g4" x="950" y="564"/><use href="#g1" x="932" y="617"/><use href="#g7" x="938" y="617"/><use href="#g1" x="944" y="617"/><use href="#g0" x="950" y="617"/><use href="#g1" x="932" y="670"/><use href="#g7" x="938" y="670"/><use href="#g0" x="944" y="670"/><use href="#g4" x="950" y="670"/><use href="#g0" x="953" y="682"/><use href="#g7" x="959" y="682"/><use href="#g0" x="965" y="682"/><use href="#g2" x="1025" y="682"/><use href="#g7" x="1031" y="682"/><use href="#g0" x="1037" y="682"/><use href="#g3" x="1097" y="682"/><use href="#g7" x="1103" y="682"/><use href="#g0" x="1109" y="682"/><use href="#g5" x="1169" y="682"/><use href="#g7" x="1175" y="682"/><use href="#g0" x="1181" y="682"/><use href="#g13" x="1023" y="698"/><use href="#g14" x="1029" y="698"/><use href="#g15" x="1035" y="698"/><use href="#g16" x="1041" y="698"/><use href="#g17" x="1098" y="698"/><use href="#g9" x="925" y="431"/><use href="#g10" x="1043" y="431"/><use href="#g11" x="1049" y="431"/><use href="#g4" x="1055" y="431"/><use href="#g12" x="1061" y="431"/><use href="#g8" x="1067" y="431"/><use href="#g10" x="1073" y="431"/><use href="#g11" x="1079" y="431"/><use href="#g5" x="1085" y="431"/><use href="#g12" x="1091" y="431"/></g>
<rect x="1026" y="434" width="12" height="1" fill="#b0102a"/>
<rect x="960" y="490" width="1" height="15" fill="#e00000"/><rect x="960" y="505" width="2" height="21" fill="#b00000"/><path d="M961 525 L962.5 540 L964.2 550 L965.4 560 L967.5 573.4 L970.9 586.7 L975.9 598.4" fill="none" stroke="#f00000" stroke-width="2" stroke-linejoin="round" shape-rendering="geometricPrecision"/><path d="M970.9 586.7 L975.9 598.4 L983.4 609.2 L991.7 616.8 L1003.4 621.8 L1008.4 628.4 L1012.6 633.5 L1021.8 627.6 L1026 628.4 L1032.6 641.8 L1041.8 645.1 L1051.8 642.6 L1056.8 643.5 L1063.5 636.8 L1070 632 L1080 627 L1085.5 624.8 L1091 626.5 L1096 632 L1100 633 L1106 637.5 L1112 639 L1116 636.5 L1122 642.5 L1128 640.5 L1135 646.5 L1147.5 646.8" fill="none" stroke="#f00000" stroke-width="3.8" stroke-linejoin="round" shape-rendering="geometricPrecision"/>
<g shape-rendering="geometricPrecision" font-family="Liberation Sans" font-size="12px" letter-spacing="0.15" fill="#000"><text x="969" y="497">if the input is a 100Hz sine wave 40V peak</text><text x="969" y="511">and the load is 4ohm = 200W rms and</text><text x="969" y="525">capacitor is 47000uF and the bias</text><text x="969" y="539">resistences are now 330ohm instead</text><text x="969" y="553">560ohm the result is OK</text></g>
</svg>
</body></html>
